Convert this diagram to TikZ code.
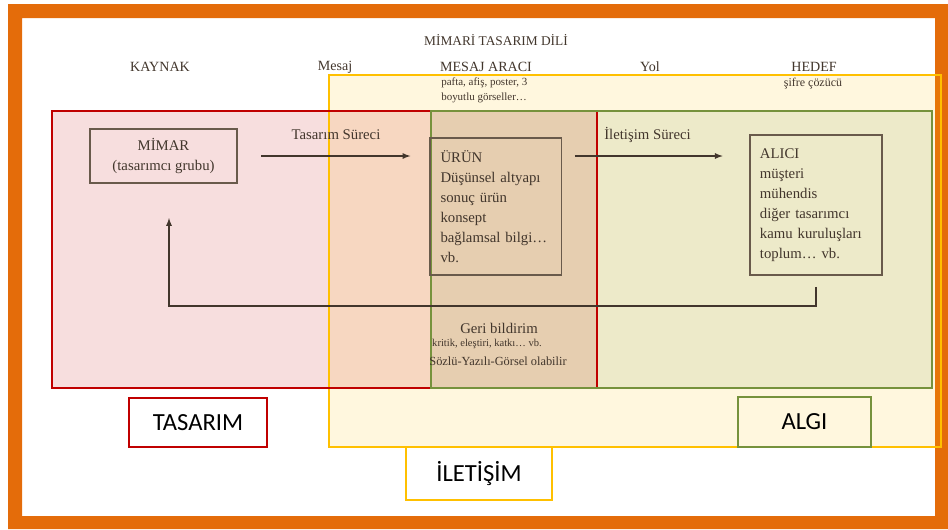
\documentclass[tikz,border=0pt]{standalone}
\usepackage{fontspec}
\setmainfont{Liberation Serif}
\newfontfamily\calibri{Carlito}
\usetikzlibrary{positioning}

\definecolor{turuncu}{RGB}{228,108,10}
\definecolor{kirmizi}{RGB}{192,0,0}
\definecolor{sari}{RGB}{255,192,0}
\definecolor{yesil}{RGB}{118,146,60}
\definecolor{murekkep}{RGB}{66,54,44}
\definecolor{kutucizgi}{RGB}{105,90,75}

\tikzset{
	alan/.style={fill opacity=0.13},
	sinir/.style={line width=1.4pt},
	baslik/.style={text=murekkep, inner sep=0pt, font=\fontsize{10}{12}\selectfont},
	govde/.style={text=murekkep, inner sep=0pt, font=\fontsize{10.5}{14.2}\selectfont},
	kutu/.style={govde, draw=kutucizgi, line width=0.8pt},
	ok/.style={draw=murekkep, line width=0.9pt, -latex},
	etiket/.style={line width=1.4pt, inner sep=0pt, text=black, font=\calibri\fontsize{17.5}{20}\selectfont},
}

\begin{document}
\begin{tikzpicture}[x=0.025cm, y=-0.025cm]
	\useasboundingbox (0,0) rectangle (948,529);

	% cerceve
	\fill[turuncu, even odd rule] (8,4) rectangle (948,529) (22,18) rectangle (935,516);

	% alanlar
	\fill[sari, alan] (329,75) rectangle (941,447);
	\fill[kirmizi, alan] (52,111) rectangle (597,388);
	\fill[yesil, alan] (431,111) rectangle (932,388);

	\draw[draw=sari, sinir] (329,75) rectangle (941,447);
	\draw[draw=kirmizi, sinir] (52,111) rectangle (597,388);
	\draw[draw=yesil, sinir] (431,111) rectangle (932,388);

	% basliklar
	\node[baslik, font=\fontsize{9.5}{11}\selectfont] (dil) at (496,40) {MİMARİ TASARIM DİLİ};
	\node[baslik] (kaynak) at (160,67) {KAYNAK};
	\node[baslik] (mesaj) at (335,67) {Mesaj};
	\node[baslik] (arac) at (486,67) {MESAJ ARACI};
	\node[baslik] (yol) at (650,67) {Yol};
	\node[baslik] (hedef) at (814,67) {HEDEF};
	\node[baslik, font=\fontsize{8.5}{10}\selectfont] (cozucu) at (813,84) {şifre çözücü};
	\node[baslik, anchor=west, align=left, font=\fontsize{7.8}{10.7}\selectfont] (pafta) at (441,90.5) {pafta, afiş, poster, 3\\boyutlu görseller…};

	% kutular
	\node[kutu, minimum width=3.675cm, minimum height=1.35cm, align=center] (mimar) at (163.5,156) {MİMAR\\(tasarımcı grubu)};

	\node[kutu, minimum width=3.29cm, minimum height=3.425cm, text width=2.76cm] (urun) at (495.75,206.5) {ÜRÜN\\Düşünsel altyapı\\sonuç ürün\\konsept\\bağlamsal bilgi…\\vb.};

	\node[kutu, minimum width=3.3cm, minimum height=3.5cm, text width=2.8cm] (alici) at (816,205) {ALICI\\müşteri\\mühendis\\diğer tasarımcı\\kamu kuruluşları\\toplum… vb.};

	\node[govde] (tsurec) at (336,135) {Tasarım Süreci};
	\node[govde, anchor=west] (isurec) at (604,135) {İletişim Süreci};

	\draw[ok, shorten <=17pt, shorten >=13.5pt] (mimar.east) -- (mimar.east -| urun.west);
	\draw[ok, shorten <=9pt, shorten >=19pt] (urun.east |- mimar.east) -- (alici.west |- mimar.east);

	% geri bildirim
	\coordinate (donus) at (169,306);
	\draw[ok, shorten <=8pt, shorten >=24.5pt] (alici.south) |- (donus) -- (donus |- mimar.south);

	\node[govde] (geri) at (499,328) {Geri bildirim};
	\node[govde, font=\fontsize{7.5}{9}\selectfont] (kritik) at (487,344) {kritik, eleştiri, katkı… vb.};
	\node[govde, font=\fontsize{8.8}{10}\selectfont] (sozlu) at (498,361) {Sözlü-Yazılı-Görsel olabilir};

	% etiketler
	\node[etiket, draw=kirmizi, fill=white, minimum width=3.45cm, minimum height=1.225cm] (tasarim) at (198,422.5) {TASARIM};
	\node[etiket, draw=sari, fill=white, minimum width=3.65cm, minimum height=1.325cm] (iletisim) at (479,473.5) {İLETİŞİM};
	\node[etiket, draw=yesil, minimum width=3.325cm, minimum height=1.25cm] (algi) at (804.5,422) {ALGI};
\end{tikzpicture}
\end{document}
